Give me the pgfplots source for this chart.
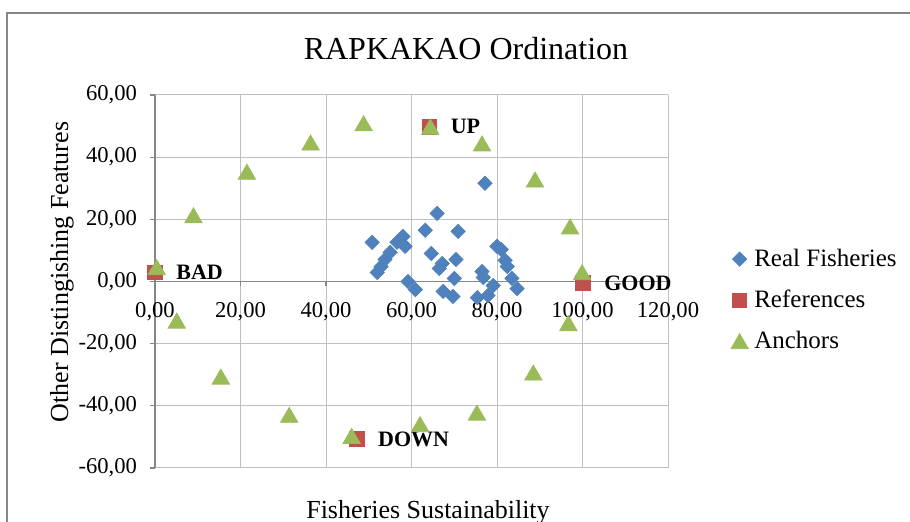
\documentclass[border=0pt]{standalone}
\usepackage{fontspec}
\setmainfont{Liberation Serif}
\usepackage{pgfplots}
\pgfplotsset{compat=1.18}
\definecolor{rfblue}{HTML}{4F81BD}
\definecolor{refred}{HTML}{C0504D}
\definecolor{anchgreen}{HTML}{9BBB59}
\definecolor{gridgray}{HTML}{BFBFBF}
\definecolor{axgray}{HTML}{868686}
\pgfplotsset{mylegimg/.style={legend image code/.code={\draw[mark repeat=2,mark phase=2,##1] plot coordinates {(0cm,0cm) (0.18cm,0cm) (0.36cm,0cm)};}}}

\pgfplotstableread{
x y
50.8 12.6
52.0 2.9
52.9 4.8
53.8 7.1
55.0 9.4
56.6 12.6
58.0 14.5
58.5 11.3
59.2 0.0
60.9 -2.6
63.2 16.5
64.6 9.0
66.0 21.9
66.5 4.2
67.2 5.8
67.4 -3.2
69.7 -4.8
70.0 1.0
70.4 7.1
70.9 16.1
75.4 -5.2
76.5 3.2
76.8 1.3
77.2 31.6
77.9 -4.5
79.1 -1.3
80.0 11.3
81.0 10.3
81.9 6.8
82.4 4.8
83.5 1.0
84.7 -2.3
}\realdata

\pgfplotstableread{
x y label
0.0 3.0 BAD
64.2 49.8 UP
100.1 -0.5 GOOD
47.2 -50.7 DOWN
}\refdata

\pgfplotstableread{
x y
0.4 4.6
9.0 21.3
21.5 35.3
36.4 44.7
48.8 50.9
64.4 49.8
76.5 44.4
88.9 32.8
97.1 17.7
99.9 3.0
96.7 -13.4
88.5 -29.3
75.3 -42.2
62.0 -45.9
46.0 -49.7
31.4 -42.9
15.4 -30.6
5.1 -12.6
}\anchdata

\begin{document}
\begin{tikzpicture}
\useasboundingbox (0,0) rectangle (455pt,261pt);
\draw[axgray, line width=0.75pt] (3.5pt,-5pt) -- (3.5pt,254.5pt) -- (460pt,254.5pt);
\node[font=\fontsize{16}{19}\selectfont] at (233pt,236.5pt) {RAPKAKAO Ordination};
\node[rotate=90,font=\fontsize{13}{15}\selectfont] at (31pt,125pt) {Other Distingishing Features};
\node[anchor=base,font=\fontsize{13}{15}\selectfont] at (214pt,1.5pt) {Fisheries Sustainability};
\begin{axis}[
  at={(77.5pt,27pt)}, anchor=south west, scale only axis,
  width=256.5pt, height=186.5pt,
  xmin=0, xmax=120, ymin=-60, ymax=60,
  axis x line=middle, axis y line=left,
  axis line style={-, axgray, line width=0.6pt},
  hide obscured x ticks=false, hide obscured y ticks=false,
  grid=major, major grid style={gridgray, line width=0.5pt},
  xtick={0,20,40,60,80,100,120}, ytick={-60,-40,-20,0,20,40,60},
  xticklabels={{\textrm{0,00}},{\textrm{20,00}},{\textrm{40,00}},{\textrm{60,00}},{\textrm{80,00}},{\textrm{100,00}},{\textrm{120,00}}},
  yticklabels={{\textrm{-60,00}},{\textrm{-40,00}},{\textrm{-20,00}},{\textrm{0,00}},{\textrm{20,00}},{\textrm{40,00}},{\textrm{60,00}}},
  ticklabel style={font=\fontsize{11.3}{13}\selectfont},
  xticklabel style={yshift=-4.5pt},
  yticklabel style={xshift=-3pt},
  tick style={axgray, line width=0.6pt},
  major tick length=2.5pt,
  xtick align=outside, ytick align=outside,
  legend style={at={(1.122,0.45)}, anchor=west, draw=none, fill=none,
    font=\fontsize{12.5}{15}\selectfont, row sep=8.3pt, column sep=2pt, inner sep=0pt,
    nodes={inner sep=1pt}},
  legend cell align=left,
  clip=false,
]
\addplot[only marks, mark=square*, mark size=2.5pt, mark options={rotate=45, fill=rfblue, draw=rfblue}, mylegimg] table {\realdata};
\addlegendentry{Real Fisheries}
\addplot[only marks, mark=square*, mark size=3.6pt, mark options={fill=refred, draw=refred}, mylegimg,
  nodes near coords, point meta=explicit symbolic,
  every node near coord/.append style={anchor=west, xshift=10.5pt, yshift=0pt, inner sep=0pt, font=\fontsize{11}{13}\selectfont\bfseries, text=black}]
  table[meta=label] {\refdata};
\addlegendentry{References}
\addplot[only marks, mark=triangle*, mark size=5pt, mark options={fill=anchgreen, draw=anchgreen, yshift=-1.25pt}, mylegimg] table {\anchdata};
\addlegendentry{Anchors}
\end{axis}
\end{tikzpicture}
\end{document}
